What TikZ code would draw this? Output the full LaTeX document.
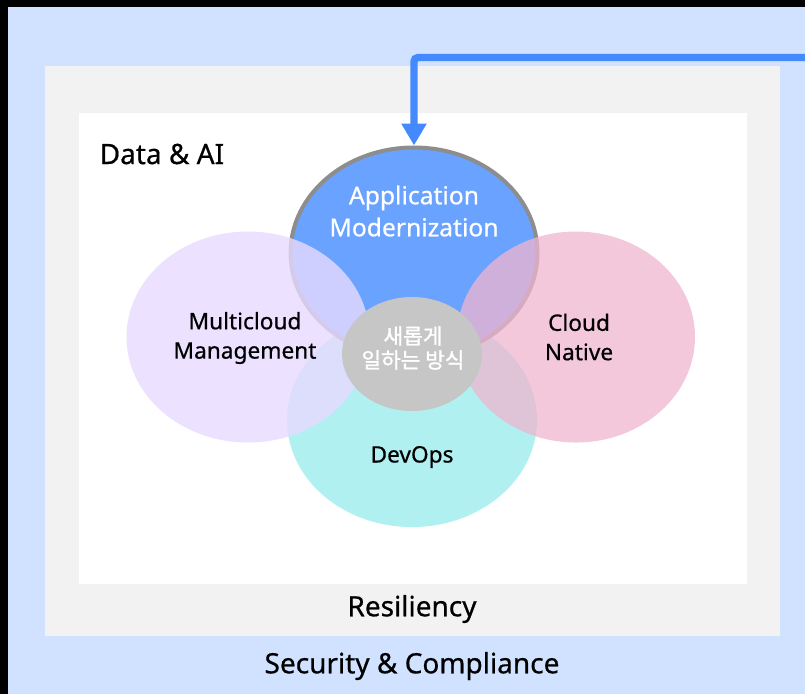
\documentclass[tikz,border=0pt]{standalone}
\usepackage{fontspec}
\setmainfont{Noto Sans}[FakeBold=0.6]
\newfontfamily\cjk{Noto Sans CJK KR}[FakeBold=1.4]
\usepackage{tikz}
\usetikzlibrary{shapes.geometric,arrows.meta,positioning,calc}
\def\u{0.75pt}
\def\BubbleW{250}
\def\BubbleH{214}
\definecolor{frameblue}{HTML}{D0E2FF}
\definecolor{frameGray}{HTML}{F2F2F2}
\definecolor{linkblue}{HTML}{4589FF}
\definecolor{appsblue}{HTML}{6AA2FF}
\definecolor{rimgray}{HTML}{8D8D8D}
\definecolor{lavender}{HTML}{E8DAFF}
\definecolor{rosepink}{HTML}{F0B6D0}
\definecolor{aqua}{HTML}{B0F0F0}
\definecolor{coregray}{HTML}{C6C6C6}

\begin{document}
\begin{tikzpicture}[x=\u,y=-\u,
    bubble/.style={ellipse,inner sep=0pt,minimum width=\BubbleW*\u,minimum height=\BubbleH*\u},
    tag/.style={align=center,font=\fontsize{17}{22}\selectfont},
    band/.style={font=\fontsize{21}{24}\selectfont},
    feedline/.style={linkblue,line width=5.5pt,rounded corners=3pt,
        -{Triangle[width=18pt,length=16.5pt]}}]
    % frames
    \fill[black] (0,0) rectangle (805,694);
    \useasboundingbox (0,0) rectangle (805,694);
    \fill[frameblue] (8,7) rectangle (805,694);
    \fill[frameGray] (45,66) rectangle (780,636);
    \fill[white] (79,113) rectangle (747,584);
    % bubbles
    \node[ellipse,fill=coregray,inner sep=0pt,minimum width=140*\u,minimum height=114*\u] (core) at (412,354) {};
    \node[bubble,fill=aqua] (devops) at ($(core)+(0,66)$) {};
    \node[bubble,fill=appsblue,draw=rimgray,line width=3pt,minimum width=247*\u,minimum height=211*\u] (apps) at ($(core)+(2,-101)$) {};
    \node[bubble,fill=lavender,fill opacity=0.8,minimum width=243*\u,minimum height=211*\u] (multi) at ($(core)+(-164,-17)$) {};
    \node[bubble,fill=rosepink,fill opacity=0.75,minimum width=238*\u,minimum height=211*\u] (native) at ($(core)+(164,-17)$) {};
    \node[ellipse,fill=coregray,inner sep=0pt,minimum width=140*\u,minimum height=114*\u] at (core) {};
    % labels
    \node[tag,white,font=\fontsize{18.5}{24}\selectfont] (appstext) at ($(apps)+(0,-42)$) {Application\\Modernization};
    \node[tag] (multitext) at ($(multi)+(-3,1)$) {Multicloud\\Management};
    \node[tag] (nativetext) at ($(native)+(3,0)$) {Cloud\\Native};
    \node[tag] (devopstext) at ($(devops)+(0,37)$) {DevOps};
    \node[tag,white,font=\cjk\fontsize{16}{18}\selectfont] (coretext) at ($(core)+(1,-6)$) {새롭게\\일하는 방식};
    \node[band,anchor=west] (data) at (95,154) {Data \& AI};
    \node[band] (resil) at (412,609) {Resiliency};
    \node[band] (secure) at (412,666) {Security \& Compliance};
    % feed into the top bubble
    \coordinate (feed) at (805,57.5);
    \draw[feedline] (feed) -| (apps.north);
\end{tikzpicture}
\end{document}
